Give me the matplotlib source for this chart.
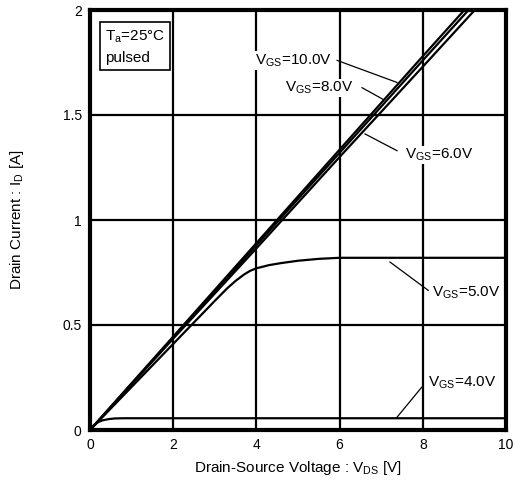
import matplotlib
matplotlib.use('Agg')
import matplotlib.pyplot as plt

plt.rcParams['font.family'] = ['Liberation Sans', 'DejaVu Sans']

# curves
vds_10 = [0, 2, 4, 6, 8, 9.0]
id_10 = [0, 0.445, 0.89, 1.335, 1.78, 2.0]
vds_8 = [0, 2, 4, 6, 8, 9.1]
id_8 = [0, 0.44, 0.88, 1.32, 1.76, 2.0]
vds_6 = [0, 2, 4, 6, 8, 9.25]
id_6 = [0, 0.435, 0.865, 1.30, 1.73, 2.0]
vds_5 = [0, 1, 2, 3, 3.3, 3.5, 3.7, 3.85, 4.0, 4.3, 4.6, 5.0, 5.5, 6.0, 10]
id_5 = [0, 0.205, 0.41, 0.615, 0.675, 0.71, 0.74, 0.758, 0.77, 0.785, 0.795, 0.806, 0.815, 0.82, 0.82]
vds_4 = [0, 0.1, 0.2, 0.3, 0.45, 0.6, 0.8, 10]
id_4 = [0, 0.025, 0.038, 0.046, 0.052, 0.055, 0.056, 0.056]

xticks = [0, 2, 4, 6, 8, 10]
yticks = [0, 0.5, 1, 1.5, 2]
ytick_labels = ['0', '0.5', '1', '1.5', '2']

fig = plt.figure(figsize=(5.31, 4.96), dpi=100)
ax = fig.add_axes([90/531, 1 - 430/496, 416/531, 420/496])

for x, y in [(vds_10, id_10), (vds_8, id_8), (vds_6, id_6), (vds_5, id_5), (vds_4, id_4)]:
    ax.plot(x, y, color='black', lw=1.6, zorder=3, clip_on=True)

ax.set_xlim(0, 10)
ax.set_ylim(0, 2)
ax.set_xticks(xticks)
ax.set_yticks(yticks)
ax.set_yticklabels(ytick_labels)
ax.grid(True, color='black', lw=1.6)
ax.tick_params(length=0, labelsize=10, pad=6)
for s in ax.spines.values():
    s.set_linewidth(3)

ax.set_xlabel('Drain-Source Voltage : V$_\\mathregular{DS}$ [V]', fontsize=11, labelpad=5)
ax.set_ylabel('Drain Current : I$_\\mathregular{D}$ [A]', fontsize=11)
ax.yaxis.set_label_coords(-(90 - 26) / 416, 0.5)

# labels with leaders
labels = [
    ('V$_\\mathregular{GS}$=10.0V', 3.97, 1.76, (5.94, 1.76), (7.38, 1.655)),
    ('V$_\\mathregular{GS}$=8.0V', 4.69, 1.63, (6.54, 1.63), (7.04, 1.575)),
    ('V$_\\mathregular{GS}$=6.0V', 7.57, 1.31, (6.61, 1.41), (7.38, 1.33)),
    ('V$_\\mathregular{GS}$=5.0V', 8.22, 0.652, (7.21, 0.80), (8.13, 0.665)),
    ('V$_\\mathregular{GS}$=4.0V', 8.13, 0.224, (7.98, 0.205), (7.36, 0.056)),
]
for txt, tx, ty, p1, p2 in labels:
    ax.plot([p1[0], p2[0]], [p1[1], p2[1]], color='black', lw=0.9, zorder=4)
    ax.text(tx, ty, txt, fontsize=11, va='center', ha='left', zorder=5,
            bbox=dict(facecolor='white', edgecolor='none', pad=0.5))

ax.text(0.36, 1.825, 'T$_\\mathregular{a}$=25°C\npulsed', fontsize=11, va='center', ha='left',
        zorder=5, linespacing=1.6,
        bbox=dict(facecolor='white', edgecolor='black', lw=1.2, boxstyle='square,pad=0.3'))

fig.savefig('out.png', dpi=100)
